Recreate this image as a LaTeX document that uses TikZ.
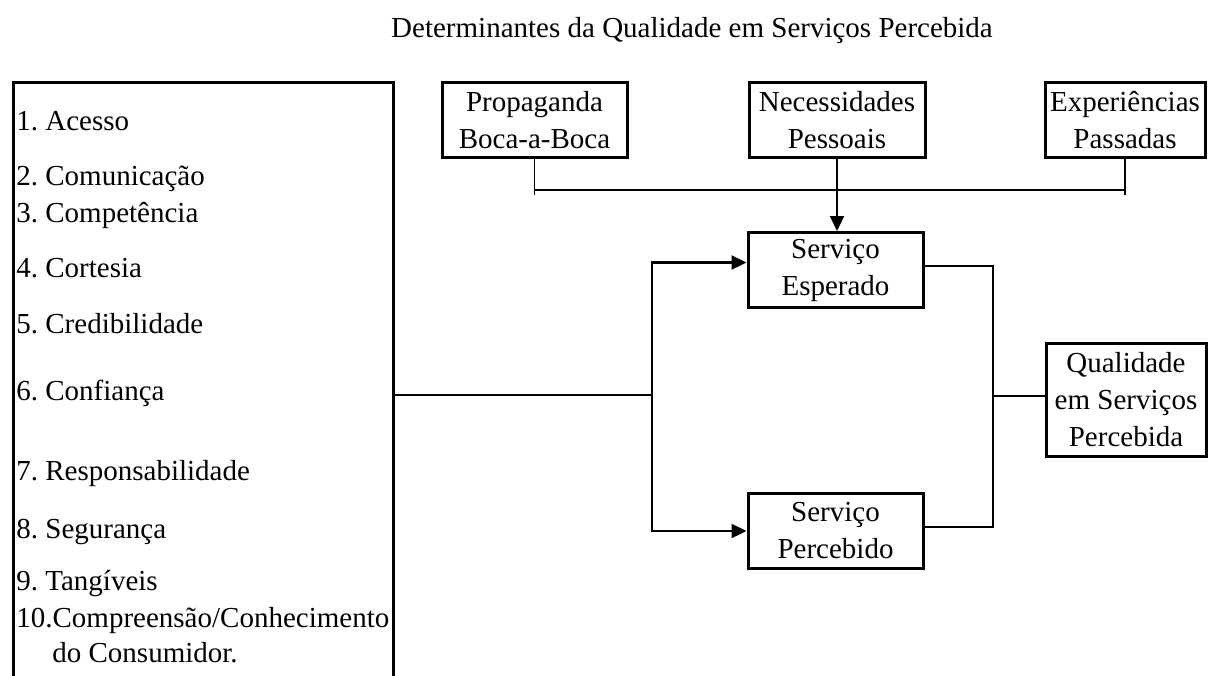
\documentclass[tikz,border=0pt]{standalone}
\usepackage{fontspec}
\setmainfont{Liberation Serif}
\usetikzlibrary{arrows.meta}
\frenchspacing

\begin{document}
\begin{tikzpicture}[x=0.5pt,y=-0.5pt,
    caixa/.style={draw,line width=1.5pt,align=center,inner sep=0pt,minimum height=37.5pt,font=\fontsize{14.5}{18.5}\selectfont},
    item/.style={anchor=base west,inner sep=0pt,font=\fontsize{14.5}{17.5}\selectfont},
    liga/.style={line width=0.65pt},
    seta/.style={line width=1.1pt,-{Triangle[length=7.5pt,width=7pt]}}]
  \useasboundingbox (0,0) rectangle (1208,675);

  \node[anchor=base,inner sep=0pt,font=\fontsize{14.5}{17.5}\selectfont] (titulo) at (692,37) {Determinantes da Qualidade em Serviços Percebida};

  % lista de determinantes
  \node[draw,line width=1.5pt,anchor=north west,inner sep=0pt,minimum width=190pt,minimum height=330pt] (lista) at (12,81) {};
  \node[item] (d1) at (16,130) {1. Acesso};
  \node[item] (d2) at (16,185) {2. Comunicação};
  \node[item] (d3) at (16,222) {3. Competência};
  \node[item] (d4) at (16,277) {4. Cortesia};
  \node[item] (d5) at (16,333) {5. Credibilidade};
  \node[item] (d6) at (16,400) {6. Confiança};
  \node[item] (d7) at (16,480) {7. Responsabilidade};
  \node[item] (d8) at (16,538) {8. Segurança};
  \node[item] (d9) at (16,590) {9. Tangíveis};
  \node[item] (d10) at (16,627) {10.Compreensão/Conhecimento};
  \node[item] (d10b) at (52,662) {do Consumidor.};

  % caixas
  \node[caixa,minimum width=92.5pt] (propaganda) at (534.5,120) {Propaganda\\Boca-a-Boca};
  \node[caixa,minimum width=88pt] (necessidades) at (837,120) {Necessidades\\Pessoais};
  \node[caixa,minimum width=80pt] (experiencias) at (1125,120) {Experiências\\Passadas};
  \node[caixa,minimum width=87.5pt] (esperado) at (835.5,270) {Serviço\\Esperado};
  \node[caixa,minimum width=87.5pt] (percebido) at (835.5,531) {Serviço\\Percebido};
  \node[caixa,minimum width=80pt,minimum height=56.5pt] (qualidade) at (1126,400) {Qualidade\\em Serviços\\Percebida};

  \coordinate (barra) at (0,190);
  \coordinate (bifurca) at (652,395);
  \coordinate (juncao) at (993,396);

  % ligacoes
  \draw[liga] (propaganda.south) -- ++(0,36);
  \draw[liga] (experiencias.south) -- ++(0,36);
  \draw[liga] (propaganda.south |- barra) -- (experiencias.south |- barra);
  \draw[seta] (necessidades.south) -- (necessidades.south |- esperado.north);
  \draw[liga] (lista.east |- bifurca) -- (bifurca);
  \draw[seta] (bifurca) |- ([yshift=3.75pt]esperado.west);
  \draw[seta] (bifurca) |- (percebido.west);
  \draw[liga] ([yshift=2pt]esperado.east) -| (juncao) |- ([yshift=2pt]percebido.east);
  \draw[liga] (juncao) -- (juncao -| qualidade.west);
\end{tikzpicture}
\end{document}
